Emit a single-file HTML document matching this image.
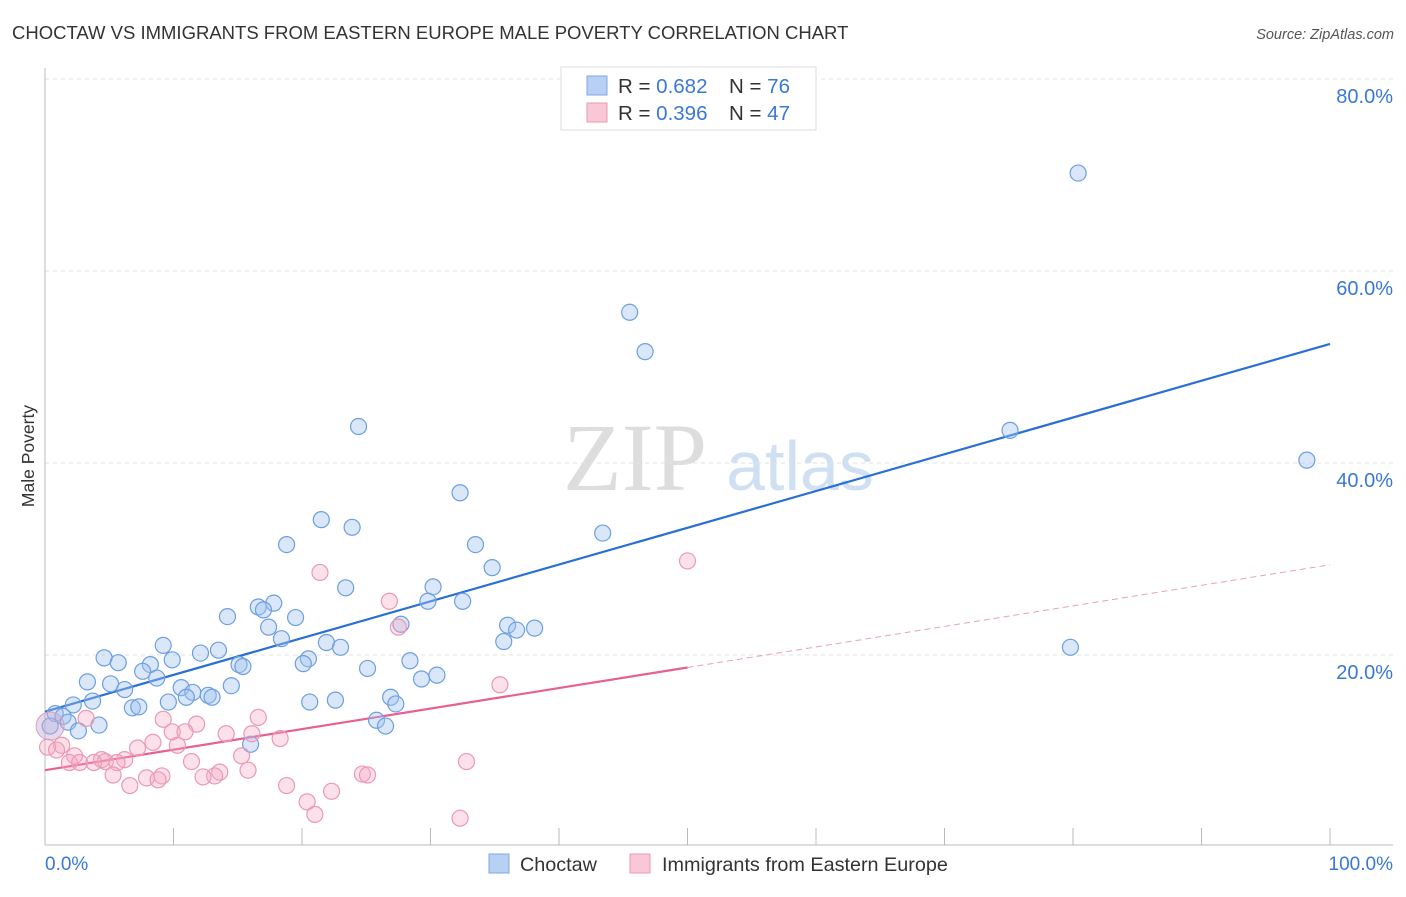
<!DOCTYPE html>
<html><head><meta charset="utf-8"><style>
body{margin:0;background:#fff;font-family:"Liberation Sans",sans-serif;}
svg text{font-family:"Liberation Sans",sans-serif;}
</style></head><body>
<svg id="chart" width="1406" height="892">
<text x="12" y="39" font-size="18.5" fill="#333">CHOCTAW VS IMMIGRANTS FROM EASTERN EUROPE MALE POVERTY CORRELATION CHART</text>
<text x="1394" y="39" font-size="14.5" fill="#555" font-style="italic" text-anchor="end">Source: ZipAtlas.com</text>
<text x="34" y="456" font-size="17.5" fill="#333" text-anchor="middle" transform="rotate(-90 34 456)">Male Poverty</text>
<text x="635" y="490" font-size="96" fill="#ddd" text-anchor="middle" style="font-family:'Liberation Serif',serif">ZIP</text>
<text x="800" y="490" font-size="70" fill="#cfe0f3" text-anchor="middle">atlas</text>
<g id="grid"></g><g id="axes"></g><g id="lines"></g><g id="pts"></g>
<g>
<rect x="561" y="67" width="255" height="63" fill="#fff" stroke="#ddd"/>
<rect x="587" y="76" width="20" height="19" fill="#b7d0f3" stroke="#7fa8e0"/>
<rect x="587" y="103" width="20" height="19" fill="#f9c7d6" stroke="#ea9ab5"/>
<text x="618" y="93" font-size="20.5" fill="#333">R = <tspan fill="#3a78d6">0.682</tspan><tspan x="729">N = </tspan><tspan fill="#3a78d6">76</tspan></text>
<text x="618" y="120" font-size="20.5" fill="#333">R = <tspan fill="#3a78d6">0.396</tspan><tspan x="729">N = </tspan><tspan fill="#3a78d6">47</tspan></text>
</g>
<g>
<rect x="489" y="854" width="20" height="19" fill="#b7d0f3" stroke="#7fa8e0"/>
<text x="520" y="871" font-size="19.8" fill="#333">Choctaw</text>
<rect x="630" y="854" width="20" height="19" fill="#f9c7d6" stroke="#ea9ab5"/>
<text x="662" y="871" font-size="19.8" fill="#333">Immigrants from Eastern Europe</text>
</g>
</svg>
<script>
const blueX=[80.4,45.5,46.7,98.2,75.1,24.4,32.3,21.5,23.9,18.8,33.5,43.4,34.8,23.4,30.2,29.8,32.5,17.8,16.6,17.0,14.2,19.5,17.4,18.4,27.7,36.0,36.7,38.1,35.7,79.8,9.2,21.9,23.0,4.6,5.7,9.9,12.1,13.5,15.1,15.4,20.5,20.1,28.4,8.2,7.6,25.1,30.5,29.3,3.3,5.1,8.7,6.2,14.5,10.6,11.5,11.0,12.7,13.0,2.2,3.7,9.6,26.9,27.3,20.6,22.6,6.8,7.3,0.8,1.4,1.8,2.6,4.2,25.8,26.5,16.0,0.4];
const blueY=[70.2,55.7,51.6,40.3,43.4,43.8,36.9,34.1,33.3,31.5,31.5,32.7,29.1,27.0,27.1,25.6,25.6,25.4,25.0,24.7,24.0,23.9,22.9,21.7,23.2,23.1,22.6,22.8,21.4,20.8,21.0,21.3,20.8,19.7,19.2,19.5,20.2,20.5,19.0,18.8,19.6,19.1,19.4,19.0,18.3,18.6,17.9,17.5,17.2,17.0,17.6,16.4,16.8,16.6,16.1,15.6,15.8,15.6,14.8,15.2,15.1,15.6,14.9,15.1,15.3,14.5,14.6,13.9,13.6,13.0,12.1,12.7,13.2,12.6,10.7,12.6];
const pinkX=[50.0,21.4,26.8,27.5,35.4,16.6,9.2,3.2,11.8,9.9,10.9,8.4,10.3,7.2,14.1,16.1,18.3,1.3,0.2,0.9,2.3,4.4,6.2,4.7,5.6,1.9,2.7,3.8,11.4,15.3,32.8,9.1,13.6,13.2,12.3,15.8,5.3,7.9,6.6,8.8,24.7,25.1,18.8,22.3,20.4,21.0,32.3];
const pinkY=[29.8,28.6,25.6,22.9,16.9,13.5,13.3,13.4,12.8,12.0,12.0,10.9,10.6,10.3,11.8,11.8,11.3,10.6,10.4,10.1,9.5,9.1,9.1,8.9,8.8,8.8,8.8,8.8,8.9,9.5,8.9,7.4,7.8,7.4,7.3,8.0,7.5,7.2,6.4,7.0,7.6,7.5,6.4,5.8,4.7,3.4,3.0];
const blueLine=[14.1,52.4];
const pinkLine=[8.0,29.4];
const pinkSolidEnd=50;
const yTicks=[20,40,60,80];
const xTickLabels=["0.0%","100.0%"];
const NS="http://www.w3.org/2000/svg";
const X=v=>45+v*12.85, Y=v=>847-v*9.6;
function mk(tag,attrs,parent){const e=document.createElementNS(NS,tag);for(const k in attrs)e.setAttribute(k,attrs[k]);document.getElementById(parent).appendChild(e);return e;}
yTicks.forEach(t=>{
 const l=mk('line',{x1:45,x2:1393,y1:Y(t),y2:Y(t),stroke:'#e2e2e2','stroke-dasharray':'4,4'},'grid');
 
 
 const tx=mk('text',{x:1393,y:Y(t)+24,'font-size':20,fill:'#3a78d6','text-anchor':'end'},'grid');
 tx.textContent=t.toFixed(1)+'%';
 
 
});
const ax=mk('line',{x1:45,x2:1393,y1:845,y2:845,stroke:'#bbb'},'axes');


const ay=mk('line',{x1:45,x2:45,y1:68,y2:845,stroke:'#bbb'},'axes');


for(let k=0;k<=10;k++){const t=mk('line',{x1:X(k*10),x2:X(k*10),y1:828,y2:845,stroke:'#bbb'},'axes');
 
 }
const l0=mk('text',{x:45,y:870,'font-size':19,fill:'#3a78d6'},'axes');l0.textContent=xTickLabels[0];


const l1=mk('text',{x:1393,y:870,'font-size':19,fill:'#3a78d6','text-anchor':'end'},'axes');l1.textContent=xTickLabels[1];


blueX.forEach((x,i)=>{const c=mk('circle',{cx:X(x),cy:Y(blueY[i]),r:8,fill:'rgba(160,195,240,0.4)',stroke:'#6d9fe0','stroke-width':1.2},'pts');
 
 });
pinkX.forEach((x,i)=>{const c=mk('circle',{cx:X(x),cy:Y(pinkY[i]),r:8,fill:'rgba(246,170,196,0.35)',stroke:'#eb98b4','stroke-width':1.2},'pts');
 
 });
const big=mk('circle',{cx:X(0.4),cy:Y(12.6),r:14,fill:'rgba(200,170,210,0.45)',stroke:'#d8a0c0','stroke-width':1},'pts');


const bl=mk('line',{x1:X(0),y1:Y(blueLine[0]),x2:X(100),y2:Y(blueLine[1]),stroke:'#2a6fd6','stroke-width':2.2},'lines');


const py=v=>pinkLine[0]+(pinkLine[1]-pinkLine[0])*v/100;
const pl=mk('line',{x1:X(0),y1:Y(py(0)),x2:X(pinkSolidEnd),y2:Y(py(pinkSolidEnd)),stroke:'#e8608f','stroke-width':2.2},'lines');


const pd=mk('line',{x1:X(pinkSolidEnd),y1:Y(py(pinkSolidEnd)),x2:X(100),y2:Y(py(100)),stroke:'#e8a0b8','stroke-width':1,'stroke-dasharray':'6,4'},'lines');


</script>
</body></html>
